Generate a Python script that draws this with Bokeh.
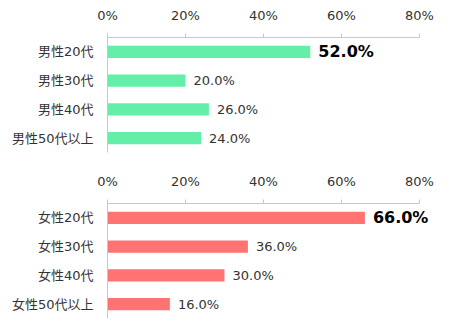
from bokeh.plotting import figure
from bokeh.layouts import column
from bokeh.models import ColumnDataSource, FixedTicker, CustomJSTickFormatter
from bokeh.core.properties import value
from bokeh.embed import file_html
from bokeh.resources import INLINE

male_cats = ["男性20代", "男性30代", "男性40代", "男性50代以上"]
male_vals = [52.0, 20.0, 26.0, 24.0]
female_cats = ["女性20代", "女性30代", "女性40代", "女性50代以上"]
female_vals = [66.0, 36.0, 30.0, 16.0]
x_ticks = [0, 20, 40, 60, 80]

FONT = "DejaVu Sans, 'Noto Sans CJK JP', sans-serif"


def make_panel(cats, vals, color):
    rev = list(reversed(cats))
    p = figure(width=450, height=166, y_range=rev, x_range=(0, 87.7),
               x_axis_location="above", output_backend="svg",
               toolbar_location=None, min_border_left=107, min_border_right=1,
               min_border_top=37, min_border_bottom=14)
    p.outline_line_color = None
    p.grid.grid_line_color = None
    p.background_fill_color = "white"
    p.border_fill_color = "white"

    mx = max(vals)
    labels = [f"{v:.1f}%" for v in vals]
    src = ColumnDataSource(dict(cat=cats, val=vals, lab=labels,
                                bold=["bold" if v == mx else "normal" for v in vals],
                                size=["16px" if v == mx else "13px" for v in vals],
                                col=["#000000" if v == mx else "#333333" for v in vals]))
    p.hbar(y="cat", right="val", left=0, height=0.42, source=src,
           fill_color=color, line_color=None)
    r = p.text(x="val", y="cat", text="lab", source=src, x_offset=8,
               text_baseline="middle", text_align="left",
               text_font=value(FONT), text_font_size="size",
               text_color="col")
    r.glyph.text_font_style = {"field": "bold"}

    xa = p.xaxis[0]
    xa.bounds = (0, 80)
    xa.ticker = FixedTicker(ticks=x_ticks)
    xa.formatter = CustomJSTickFormatter(code="return tick + '%';")
    xa.axis_line_color = "#c8c8c8"
    xa.major_tick_line_color = "#c8c8c8"
    xa.major_tick_out = 4
    xa.major_tick_in = 0
    xa.minor_tick_line_color = None
    xa.major_label_text_font = FONT
    xa.major_label_text_font_size = "13px"
    xa.major_label_text_color = "#333333"
    xa.major_label_standoff = 11

    ya = p.yaxis[0]
    ya.axis_line_color = "#c8c8c8"
    ya.major_tick_line_color = None
    ya.minor_tick_line_color = None
    ya.major_tick_out = 0
    ya.major_tick_in = 0
    ya.major_label_text_font = FONT
    ya.major_label_text_font_size = "13px"
    ya.major_label_text_color = "#333333"
    ya.major_label_standoff = 14
    return p


p1 = make_panel(male_cats, male_vals, "#64efa8")
p2 = make_panel(female_cats, female_vals, "#ff7373")
p = column(p1, p2, spacing=0)

open("out.html", "w").write(file_html(p, INLINE))
